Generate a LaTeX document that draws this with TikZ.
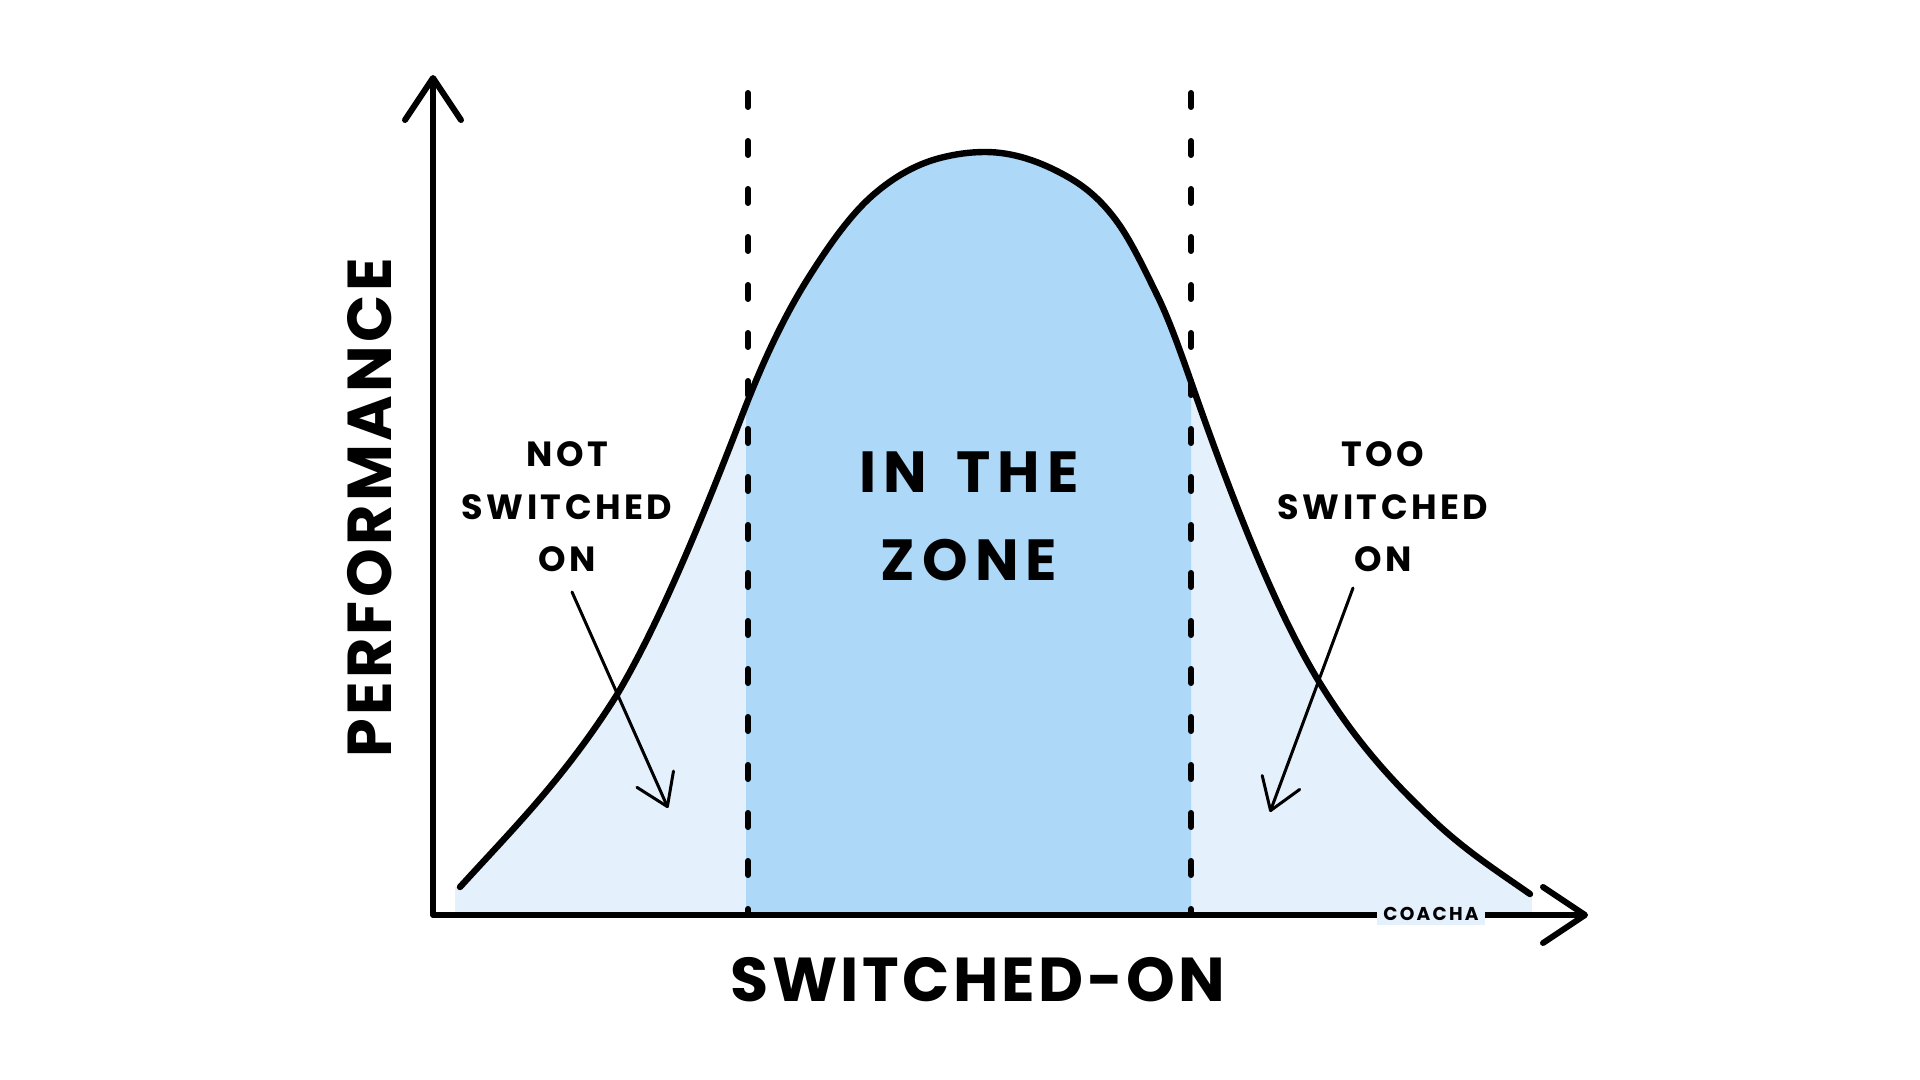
\documentclass[tikz,border=0pt]{standalone}
\usepackage{fontspec}
\setmainfont{Poppins}
\newfontfamily\axfont{Poppins}[LetterSpace=5.5]
\newfontfamily\zonefont{Poppins}[LetterSpace=12]
\newfontfamily\sidefont{Poppins}[LetterSpace=10]
\newfontfamily\coachfont{Poppins}[LetterSpace=12]
\usetikzlibrary{arrows.meta}
\definecolor{zonefill}{HTML}{ADD8F7}
\definecolor{lightfill}{HTML}{E4F0FB}
\begin{document}
\begin{tikzpicture}[x=0.5pt,y=-0.5pt,
  axis/.style={line width=3pt, line cap=round, line join=round},
  curveline/.style={line width=3.2pt, line cap=round},
  zoneline/.style={line width=3pt, dash pattern=on 7pt off 17pt, line cap=round},
  pointer/.style={line width=1.5pt, line cap=round, -{Straight Barb[length=15pt,width=20pt,round]}},
  bigtext/.style={font=\axfont\bfseries\fontsize{31}{31}\selectfont, inner sep=0pt},
  zonetext/.style={font=\zonefont\bfseries\fontsize{29}{44}\selectfont, align=center, inner sep=0pt},
  sidetext/.style={font=\sidefont\bfseries\fontsize{17.5}{26.25}\selectfont, align=center, inner sep=0pt},
  coachtext/.style={font=\coachfont\bfseries\fontsize{9.3}{9.3}\selectfont, fill=lightfill, inner xsep=3pt, inner ysep=2pt}
]
\useasboundingbox (0,0) rectangle (1920,1080);
\fill[white] (0,0) rectangle (1920,1080);

% light fill under the curve
\fill[lightfill] (455,915) -- (455,887) -- (460,887)
  .. controls (512.67,829.1) and (565.33,777.3) .. (618,693)
  .. controls (659.67,622.2) and (701.33,521.3) .. (743,413)
  .. controls (764.33,357.5) and (785.67,314.1) .. (807,280)
  .. controls (829,244.8) and (851,214.1) .. (873,195)
  .. controls (895.33,175.6) and (917.67,163.8) .. (940,158)
  .. controls (955,154.1) and (970,152) .. (985,152)
  .. controls (1012.67,152) and (1040.33,161.2) .. (1068,177)
  .. controls (1084.67,186.5) and (1101.33,199.7) .. (1118,223)
  .. controls (1131.33,241.7) and (1144.67,269.7) .. (1158,297)
  .. controls (1172.67,327.1) and (1187.33,371.9) .. (1202,413)
  .. controls (1240.67,521.3) and (1279.33,616.2) .. (1318,680)
  .. controls (1356.33,743.2) and (1394.67,783.6) .. (1433,820)
  .. controls (1465.33,850.7) and (1497.67,871.4) .. (1530,894)
  -- (1532,894) -- (1532,915) -- cycle;

% zone fill
\begin{scope}
\clip (746,0) rectangle (1191,915);
\fill[zonefill] (455,915) -- (455,887) -- (460,887)
  .. controls (512.67,829.1) and (565.33,777.3) .. (618,693)
  .. controls (659.67,622.2) and (701.33,521.3) .. (743,413)
  .. controls (764.33,357.5) and (785.67,314.1) .. (807,280)
  .. controls (829,244.8) and (851,214.1) .. (873,195)
  .. controls (895.33,175.6) and (917.67,163.8) .. (940,158)
  .. controls (955,154.1) and (970,152) .. (985,152)
  .. controls (1012.67,152) and (1040.33,161.2) .. (1068,177)
  .. controls (1084.67,186.5) and (1101.33,199.7) .. (1118,223)
  .. controls (1131.33,241.7) and (1144.67,269.7) .. (1158,297)
  .. controls (1172.67,327.1) and (1187.33,371.9) .. (1202,413)
  .. controls (1240.67,521.3) and (1279.33,616.2) .. (1318,680)
  .. controls (1356.33,743.2) and (1394.67,783.6) .. (1433,820)
  .. controls (1465.33,850.7) and (1497.67,871.4) .. (1530,894)
  -- (1532,894) -- (1532,915) -- cycle;
\end{scope}

% curve
\draw[curveline] (460,887)
  .. controls (512.67,829.1) and (565.33,777.3) .. (618,693)
  .. controls (659.67,622.2) and (701.33,521.3) .. (743,413)
  .. controls (764.33,357.5) and (785.67,314.1) .. (807,280)
  .. controls (829,244.8) and (851,214.1) .. (873,195)
  .. controls (895.33,175.6) and (917.67,163.8) .. (940,158)
  .. controls (955,154.1) and (970,152) .. (985,152)
  .. controls (1012.67,152) and (1040.33,161.2) .. (1068,177)
  .. controls (1084.67,186.5) and (1101.33,199.7) .. (1118,223)
  .. controls (1131.33,241.7) and (1144.67,269.7) .. (1158,297)
  .. controls (1172.67,327.1) and (1187.33,371.9) .. (1202,413)
  .. controls (1240.67,521.3) and (1279.33,616.2) .. (1318,680)
  .. controls (1356.33,743.2) and (1394.67,783.6) .. (1433,820)
  .. controls (1465.33,850.7) and (1497.67,871.4) .. (1530,894);

% zone boundaries
\coordinate (zlt) at (748,93);
\coordinate (zlb) at (748,915);
\coordinate (zrt) at (1191,93);
\coordinate (zrb) at (1191,915);
\draw[zoneline] (zlt) -- (zlb);
\draw[zoneline] (zrt) -- (zrb);

% axes
\coordinate (ytop) at (433,75);
\coordinate (O) at (433,915);
\coordinate (xend) at (1588,915);
\draw[axis, {Straight Barb[length=21pt,width=28pt,round]}-{Straight Barb[length=21pt,width=28pt,round]}] (ytop) -- (O) -- (xend);

% labels
\node[coachtext] (coacha) at (1431,914) {COACHA};
\node[bigtext] (xlabel) at (978,980) {SWITCHED-ON};
\node[bigtext, rotate=90] (ylabel) at (370,508) {PERFORMANCE};
\node[zonetext] (zone) at (969,516) {IN\hspace{5pt} THE\\ZONE};
\node[sidetext] (notlab) at (567,507) {NOT\\SWITCHED\\ON};
\node[sidetext] (toolab) at (1383,507) {TOO\\SWITCHED\\ON};

% pointers
\coordinate (notstart) at (572,592);
\coordinate (notend) at (668,808);
\coordinate (toostart) at (1353,588);
\coordinate (tooend) at (1270,812);
\draw[pointer] (notstart) -- (notend);
\draw[pointer] (toostart) -- (tooend);
\end{tikzpicture}
\end{document}
